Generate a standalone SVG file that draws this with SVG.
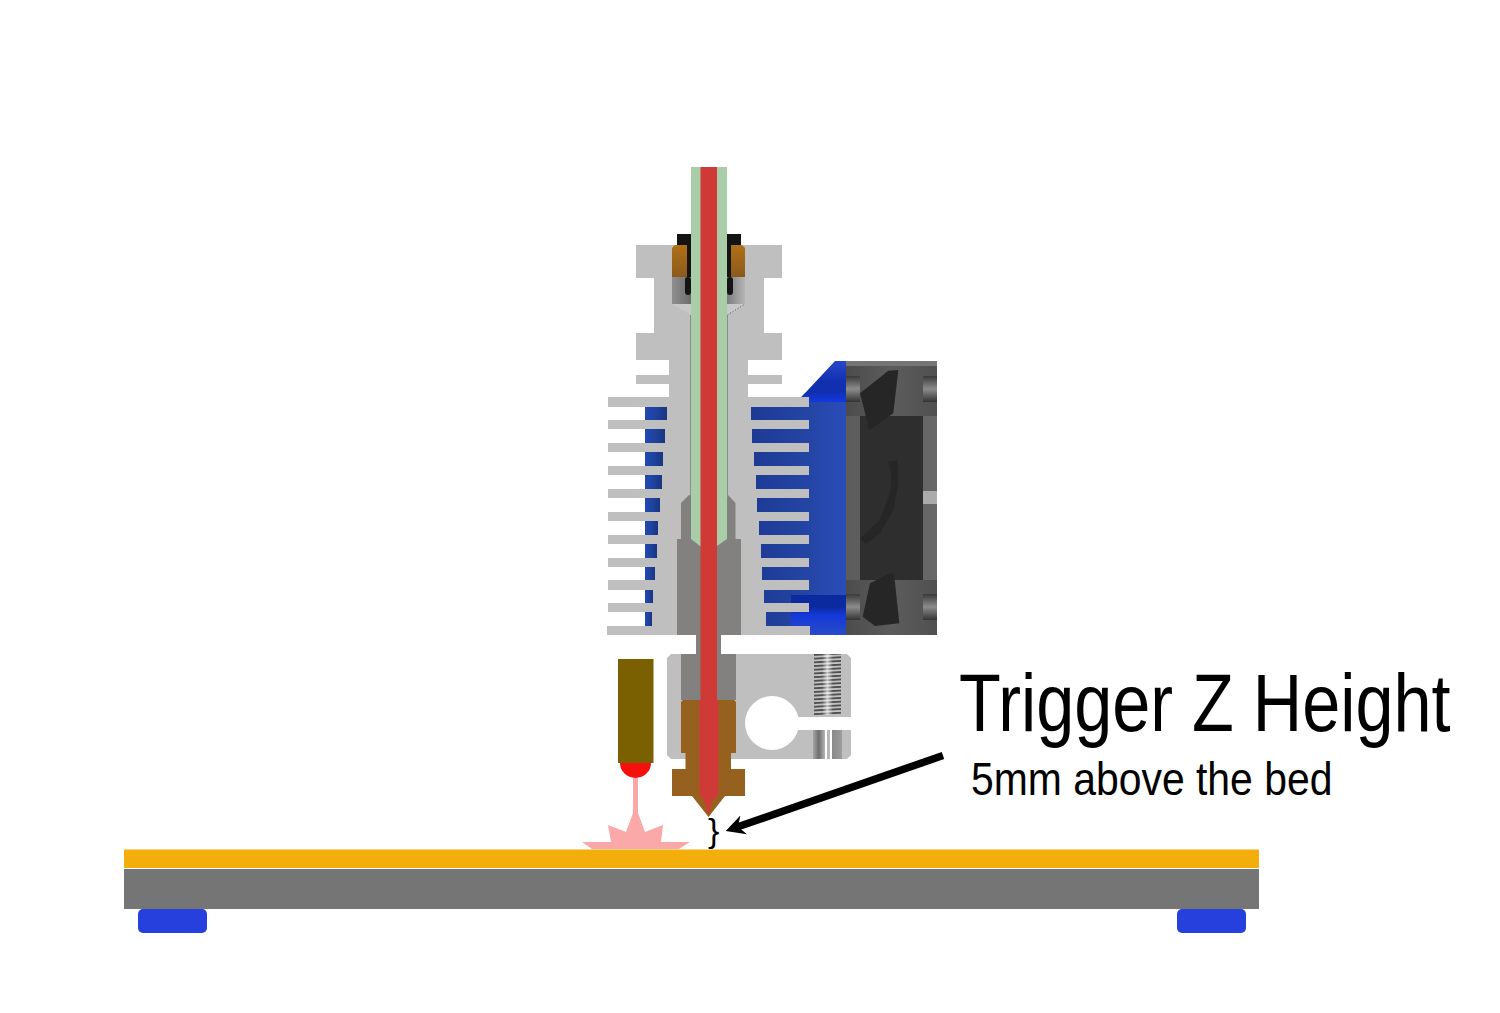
<svg xmlns="http://www.w3.org/2000/svg" width="1500" height="1013" viewBox="0 0 1500 1013">
<defs>
<linearGradient id="chamber" x1="0" y1="0" x2="1" y2="0"><stop offset="0" stop-color="#8f8f8f"/><stop offset=".25" stop-color="#6e6e6e"/><stop offset=".75" stop-color="#7c7c7c"/><stop offset="1" stop-color="#b5b5b5"/></linearGradient>
<linearGradient id="nut" x1="0" y1="0" x2="0" y2="1"><stop offset="0" stop-color="#b07018"/><stop offset="1" stop-color="#8a5a1c"/></linearGradient>
<linearGradient id="duct" x1="0" y1="0" x2="1" y2="0"><stop offset="0" stop-color="#1c3a94"/><stop offset=".6" stop-color="#2545a4"/><stop offset="1" stop-color="#2a4cb8"/></linearGradient>
<linearGradient id="leftBlue" x1="0" y1="0" x2="1" y2="0"><stop offset="0" stop-color="#2049b4"/><stop offset=".5" stop-color="#1e429e"/><stop offset="1" stop-color="#1a3480"/></linearGradient>
<linearGradient id="ductTop" x1="0" y1="0" x2="0" y2="1"><stop offset="0" stop-color="#2a46c8"/><stop offset=".5" stop-color="#1030b0"/><stop offset=".75" stop-color="#1030b0"/><stop offset="1" stop-color="#1438e0"/></linearGradient>
<linearGradient id="ductLow" x1="0" y1="0" x2="0" y2="1"><stop offset="0" stop-color="#0c2a9f"/><stop offset=".3" stop-color="#0c2a9f"/><stop offset=".5" stop-color="#1438d8"/><stop offset="1" stop-color="#2a4cc8"/></linearGradient>
<linearGradient id="fanSide" x1="0" y1="0" x2="1" y2="0"><stop offset="0" stop-color="#5c5c5c"/><stop offset="1" stop-color="#686868"/></linearGradient>
<linearGradient id="fanBand" x1="0" y1="0" x2="1" y2="0"><stop offset="0" stop-color="#4c4c4c"/><stop offset=".5" stop-color="#5c5c5c"/><stop offset="1" stop-color="#505050"/></linearGradient>
<linearGradient id="boss" x1="0" y1="0" x2="0" y2="1"><stop offset="0" stop-color="#3a3a3a"/><stop offset=".5" stop-color="#8c8c8c"/><stop offset="1" stop-color="#333"/></linearGradient>
<linearGradient id="bore" x1="0" y1="0" x2="1" y2="0"><stop offset="0" stop-color="#a5a5a5"/><stop offset=".2" stop-color="#6e6e6e"/><stop offset=".4" stop-color="#b0b0b0"/><stop offset=".42" stop-color="#fff"/><stop offset=".47" stop-color="#fff"/><stop offset=".49" stop-color="#b8b8b8"/><stop offset=".58" stop-color="#b8b8b8"/><stop offset=".6" stop-color="#fff"/><stop offset=".64" stop-color="#fff"/><stop offset=".66" stop-color="#8a8a8a"/><stop offset="1" stop-color="#9c9c9c"/></linearGradient>
<linearGradient id="threadGlow" x1="0" y1="0" x2="1" y2="0"><stop offset=".3" stop-color="#fff" stop-opacity="0"/><stop offset=".5" stop-color="#fff" stop-opacity=".65"/><stop offset=".7" stop-color="#fff" stop-opacity="0"/></linearGradient>
<pattern id="thread" width="27" height="3.7" patternUnits="userSpaceOnUse" patternTransform="translate(814 654) skewY(-3)"><rect width="27" height="3.7" fill="#c4c4c4"/><rect width="27" height="1.9" fill="#505050"/></pattern>
<marker id="head" markerUnits="userSpaceOnUse" markerWidth="22" markerHeight="22" refX="6" refY="11" orient="auto"><path d="M19 11 L0 1 L6 11 L0 21 Z" fill="#000"/></marker>
</defs>
<style>
.alu{fill:#bfbfbf}
.tube{fill:#a9cda9}
.ptfe{fill:#cf3a37}
.gr{fill:#828180}
.brass{fill:#96601e}
.blk{fill:#141414}
.foot{fill:#2540dc}
.blade{fill:#262626}
.lb{fill:url(#leftBlue)}
.rb{fill:url(#duct)}
text{font-family:"Liberation Sans",Arial,sans-serif;fill:#000}
</style>
<g id="bed">
<rect x="124" y="849.500" width="1135" height="18.500" fill="#f4ae0c"/>
<rect x="124" y="869" width="1135" height="40" fill="#757575"/>
<rect x="138" y="909" width="69" height="24" rx="5" class="foot"/>
<rect x="1177" y="909" width="69" height="24" rx="5" class="foot"/>
</g>
<g id="fan-duct">
<rect x="750" y="397" width="96" height="238" class="rb"/>
<path d="M801 397 L807 391 L835 361 L846 361 L846 402 L808 402 Z" fill="url(#ductTop)"/>
<rect x="791" y="595" width="55" height="40" fill="url(#ductLow)"/>
<rect x="645" y="407" width="22" height="13" class="lb"/>
<rect x="645" y="429" width="20" height="14" class="lb"/>
<rect x="645" y="452" width="18" height="14" class="lb"/>
<rect x="645" y="475" width="17" height="14" class="lb"/>
<rect x="645" y="498" width="15" height="14" class="lb"/>
<rect x="645" y="521" width="13" height="14" class="lb"/>
<rect x="645" y="544" width="12" height="14" class="lb"/>
<rect x="645" y="567" width="10" height="13" class="lb"/>
<rect x="645" y="590" width="8" height="13" class="lb"/>
<rect x="645" y="612" width="7" height="14" class="lb"/>
</g>
<g id="fan">
<rect x="846" y="361" width="91" height="274" fill="url(#fanSide)"/>
<rect x="846" y="361" width="91" height="55" fill="url(#fanBand)"/>
<rect x="846" y="580" width="91" height="55" fill="url(#fanBand)"/>
<rect x="846" y="361" width="91" height="5" fill="#757575"/>
<rect x="860" y="416" width="63" height="164" fill="#2e2e2e"/>
<rect x="846" y="376" width="14" height="26" fill="url(#boss)"/>
<rect x="923" y="376" width="14" height="26" fill="url(#boss)"/>
<rect x="846" y="594" width="14" height="26" fill="url(#boss)"/>
<rect x="923" y="594" width="14" height="26" fill="url(#boss)"/>
<rect x="923" y="491" width="14" height="13" fill="#ababab"/>
<g transform="translate(790 350) scale(.3333)">
<path class="blade" d="M210 130 L295 62 L325 60 L310 190 L238 240 Z"/>
<path class="blade" d="M295 335 L322 330 L325 400 L310 480 L270 550 L228 582 L210 565 L270 510 L300 430 L305 375 Z"/>
<path class="blade" d="M295 672 L312 670 L328 820 L255 828 L218 800 L240 700 Z"/>
</g>
</g>
<g id="heatsink">
<path class="alu" d="M636 245 H782 V278 H764 V333 H782 V360 H748 V375 H782 V384 H748 V397 H751 V420 H752 V443 H754 V466 H756 V489 H757 V512 H759 V535 H761 V558 H762 V580 H764 V603 H766 V635 H652 V612 H653 V590 H655 V567 H657 V544 H658 V521 H660 V498 H662 V475 H663 V452 H665 V429 H667 V397 H669 V384 H636 V375 H669 V360 H636 V333 H654 V278 H636 Z"/>
<g class="alu">
<rect x="608" y="397" width="201" height="10"/>
<rect x="608" y="420" width="201" height="9"/>
<rect x="608" y="443" width="201" height="9"/>
<rect x="608" y="466" width="201" height="9"/>
<rect x="608" y="489" width="201" height="9"/>
<rect x="608" y="512" width="201" height="9"/>
<rect x="608" y="535" width="201" height="9"/>
<rect x="608" y="558" width="201" height="9"/>
<rect x="608" y="580" width="201" height="10"/>
<rect x="608" y="603" width="201" height="9"/>
<rect x="607" y="626" width="203" height="9"/>
</g>
<path d="M672 304 H745 L727 315 H691 Z" fill="#c8c8c8"/>
<rect x="672" y="277" width="73" height="27" fill="url(#chamber)"/>
<path d="M727.500 315 L745 304" stroke="#555" stroke-width="1" stroke-dasharray="1 2" fill="none"/>
<rect x="677" y="234" width="14" height="11" class="blk"/>
<rect x="727" y="234" width="14" height="11" class="blk"/>
<rect x="686" y="245" width="5" height="32" class="blk"/>
<rect x="727" y="245" width="4" height="32" class="blk"/>
<rect x="685" y="277" width="6" height="18" rx="3" class="blk"/>
<rect x="727" y="277" width="6" height="18" rx="3" class="blk"/>
<path d="M675 245 H687 V277 H672 V248 Z" fill="url(#nut)"/>
<path d="M731 245 H742 L745 248 V277 H731 Z" fill="url(#nut)"/>
<path class="gr" d="M681 539 V503 L689 495 H728 L735.500 503 V539 Z"/>
<rect x="677" y="539" width="64" height="96" class="gr"/>
<rect x="696" y="635" width="25" height="20" class="gr"/>
</g>
<g id="heater-block">
<path class="alu" d="M671 654 H847 L851 658 V717 H799 V730 H851 V755 L847 759 H671 L667 755 V658 Z"/>
<circle cx="772" cy="723" r="27" fill="#fff"/>
<rect x="790" y="717" width="61" height="13" fill="#fff"/>
<rect x="814" y="654" width="27" height="61" fill="url(#thread)"/>
<rect x="814" y="654" width="27" height="61" fill="url(#threadGlow)"/>
<rect x="813" y="730" width="29" height="29" fill="url(#bore)"/>
<rect x="681" y="654" width="55" height="46" class="gr"/>
</g>
<g id="nozzle">
<path class="brass" d="M683 700 H734 L736 702 V753 H731 V769 H745 V796 H725 L708.500 817 L692 796 H672 V769 H685.500 V753 H681 V702 Z"/>
</g>
<g id="filament">
<path class="tube" d="M691 167 H727 V539 L717 546 H700 L691 539 Z"/>
<path class="ptfe" d="M700.500 167 H717 V700 H718.500 V795 L712.500 800 L710.500 807 L708.500 816 L706 807 L704 800 L699.500 795 V700 H700.500 Z"/>
<path d="M690.500 315 V497 M727.500 315 V497" stroke="#8c8c8c" stroke-width="1" fill="none"/>
</g>
<g id="probe">
<path d="M582 842 L592 849 H679 L690 842 H661 L663 825 L645 832 L638 813 V778 H633 V813 L626 832 L608 825 L611 842 Z" fill="#fba8a8"/>
<path d="M620 763 H651 A15.500 15 0 0 1 620 763 Z" fill="#f5100e"/>
<rect x="618" y="659" width="35.500" height="104" fill="#7a6000"/>
</g>
<g id="connectors">
<line x1="943" y1="755.500" x2="738" y2="826.800" stroke="#000" stroke-width="7.500" marker-end="url(#head)"/>
</g>
<g id="labels">
<text transform="translate(959 731) scale(.834 1)" font-size="82">Trigger Z Height</text>
<text transform="translate(971 795) scale(.87 1)" font-size="47">5mm above the bed</text>
<text x="708" y="842" font-size="34">}</text>
</g>
</svg>
